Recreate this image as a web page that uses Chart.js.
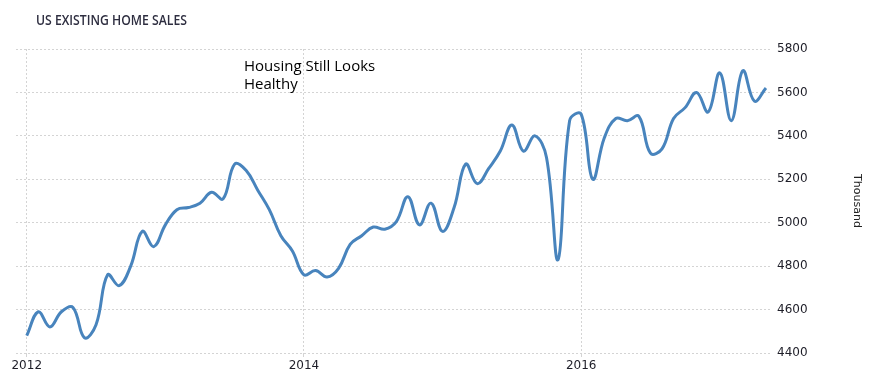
<!DOCTYPE html>
<html>
<head>
<meta charset="utf-8">
<script src="https://cdn.jsdelivr.net/npm/chart.js@4"></script>
<style>
  html, body { margin: 0; padding: 0; background: #ffffff; }
  #wrap { position: relative; width: 874px; height: 379px; overflow: hidden; }
  canvas { position: absolute; left: 0; top: 0; }
  #title {
    position: absolute; left: 35.5px; top: 9px;
    font-family: "Open Sans", "DejaVu Sans", sans-serif;
    font-weight: 600; font-size: 15px; line-height: 20px;
    color: #2e2e40; white-space: nowrap; transform-origin: 0 0;
  }
  #note {
    position: absolute; left: 244px; top: 55.5px;
    font-family: "Open Sans", "Noto Sans", sans-serif; font-size: 15px; line-height: 18.6px;
    color: #000000; white-space: nowrap;
  }
</style>
</head>
<body>
<div id="wrap">
  <canvas id="c" width="874" height="379"></canvas>
  <span id="title">US EXISTING HOME SALES</span>
  <div id="note">Housing Still Looks<br>Healthy</div>
</div>
<script>
// Monthly US existing home sales (thousand, SAAR), Jan 2012 – May 2017
const months = ['Jan','Feb','Mar','Apr','May','Jun','Jul','Aug','Sep','Oct','Nov','Dec'];
const startYear = 2012;
const sales2012 = [4480, 4590, 4520, 4590, 4610, 4470, 4530, 4760, 4710, 4800, 4960, 4890];
const sales2013 = [4990, 5060, 5070, 5090, 5140, 5110, 5270, 5240, 5150, 5060, 4940, 4870];
const sales2014 = [4760, 4780, 4750, 4790, 4900, 4940, 4980, 4970, 5005, 5120, 4990, 5090];
const sales2015 = [4960, 5070, 5270, 5180, 5250, 5330, 5450, 5330, 5400, 5300, 4830, 5470];
const sales2016 = [5500, 5200, 5390, 5480, 5470, 5490, 5320, 5340, 5480, 5530, 5600, 5510];
const sales2017 = [5690, 5470, 5700, 5560, 5620];
const tickYears = ['2012', '2014', '2016'];
const yTicks = [4400, 4600, 4800, 5000, 5200, 5400, 5600, 5800];

const allSales = [sales2012, sales2013, sales2014, sales2015, sales2016, sales2017];
const categories = [];
const points = [];
allSales.forEach((yearVals, yi) => {
  yearVals.forEach((v, mi) => {
    const idx = points.length;
    categories.push(months[mi] + ' ' + (startYear + yi));
    points.push({ x: idx, y: v });
  });
});
const tickPositions = tickYears.map(y => (parseInt(y, 10) - startYear) * 12);

// fit the condensed-looking title to its width in the reference
const titleEl = document.getElementById('title');
const tw = titleEl.getBoundingClientRect().width;
if (tw > 0) titleEl.style.transform = 'scaleX(' + (151 / tw) + ')';

const gridColor = '#d4d4d4';
const tickFont = { family: '"DejaVu Sans", sans-serif', size: 12 };

new Chart(document.getElementById('c'), {
  type: 'line',
  data: {
    labels: categories,
    datasets: [{
      label: 'US Existing Home Sales',
      data: points,
      borderColor: '#4884bd',
      borderWidth: 3,
      pointRadius: 0,
      tension: 0.4,
      fill: false
    }]
  },
  options: {
    responsive: false,
    animation: false,
    layout: { padding: { left: 16, top: 49, right: 0, bottom: 0 } },
    plugins: { legend: { display: false }, tooltip: { enabled: false }, title: { display: false } },
    scales: {
      x: {
        type: 'linear',
        min: -0.93,
        max: 64.35,
        afterBuildTicks: s => { s.ticks = tickPositions.map(v => ({ value: v })); },
        afterFit: s => { s.height = 26; },
        ticks: {
          autoSkip: false, maxRotation: 0, padding: 2,
          font: tickFont, color: '#1e1e28',
          callback: v => tickYears[tickPositions.indexOf(v)] ?? ''
        },
        grid: { color: gridColor, lineWidth: 1, drawTicks: true, tickLength: 4 },
        border: { display: false, dash: [2, 2] }
      },
      y: {
        position: 'right',
        min: 4400,
        max: 5800,
        afterBuildTicks: s => { s.ticks = yTicks.map(v => ({ value: v })); },
        afterFit: s => { s.width = 104; },
        ticks: { padding: 7, font: tickFont, color: '#1e1e28', callback: v => String(v) },
        grid: { color: gridColor, lineWidth: 1, drawTicks: false },
        border: { display: false, dash: [2, 2] },
        title: {
          display: true, text: 'Thousand', color: '#222222',
          font: { family: '"DejaVu Sans", sans-serif', size: 11 },
          padding: { top: 11, bottom: 0 }
        }
      }
    }
  }
});
</script>
</body>
</html>
